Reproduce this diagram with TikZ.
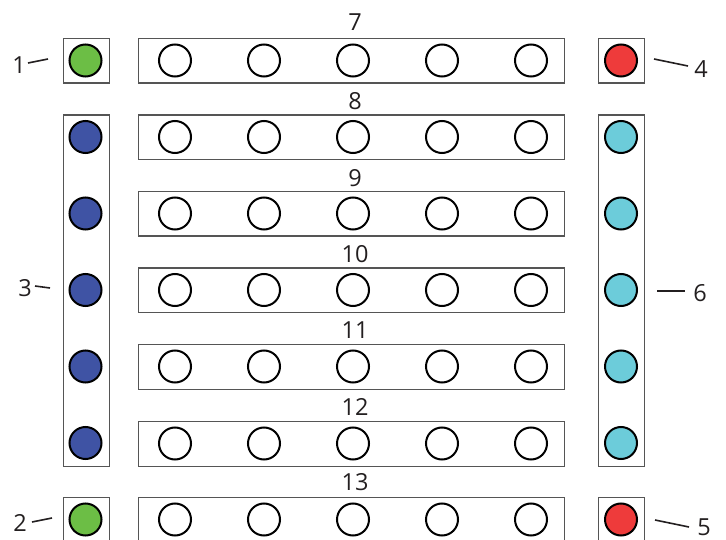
\documentclass[tikz,border=0pt]{standalone}
\usepackage{fontspec}
\setmainfont{Open Sans}
\definecolor{txt}{HTML}{231F20}
\definecolor{cgreen}{HTML}{6CBE45}
\definecolor{cred}{HTML}{EE3B3B}
\definecolor{cblue}{HTML}{3F53A4}
\definecolor{ccyan}{HTML}{6CCCDA}
\definecolor{frame}{HTML}{555555}
\tikzset{
  boxframe/.style={draw=frame, line width=1.2pt, fill=white},
  dot/.style={circle, draw=black, line width=2pt, minimum size=32pt, inner sep=0pt},
  lbl/.style={text=txt, font=\fontsize{23.5}{27}\selectfont, inner sep=0pt, anchor=center},
  leader/.style={draw=txt, line width=1.6pt},
}
\begin{document}
\begin{tikzpicture}[x=1pt,y=-1pt]
\useasboundingbox (0,0) rectangle (726,540);
\clip (0,0) rectangle (726,540);
% row boxes
\foreach \t/\n/\ly in {38/7/22, 114.5/8/101, 191/9/178, 267.5/10/254, 344/11/330, 421/12/407, 497/13/482}{
  \node[boxframe, rectangle, minimum width=426pt, minimum height=44.5pt, inner sep=0pt, anchor=north west] (row\n) at (138,\t) {};
  \node[lbl] (num\n) at (355,\ly) {\n};
  \foreach \x [count=\i] in {175,264,353,442,531}{
    \node[dot, fill=white] (c\n-\i) at (\x,\t+22.5) {};
  }
}
% single boxes
\node[boxframe, rectangle, minimum width=46pt, minimum height=44.5pt, inner sep=0pt, anchor=north west] (tlbox) at (62.5,38) {};
\node[boxframe, rectangle, minimum width=46pt, minimum height=44.5pt, inner sep=0pt, anchor=north west] (trbox) at (598,38) {};
\node[boxframe, rectangle, minimum width=46pt, minimum height=44.5pt, inner sep=0pt, anchor=north west] (blbox) at (62.5,497) {};
\node[boxframe, rectangle, minimum width=46pt, minimum height=44.5pt, inner sep=0pt, anchor=north west] (brbox) at (598,497) {};
\node[dot, fill=cgreen] (g1) at (85.5,60.5) {};
\node[dot, fill=cred] (r1) at (621,60.5) {};
\node[dot, fill=cgreen] (g2) at (85.5,519.5) {};
\node[dot, fill=cred] (r2) at (621,519.5) {};
% columns
\node[boxframe, rectangle, minimum width=46pt, minimum height=351pt, inner sep=0pt, anchor=north west] (lcol) at (62.5,114.5) {};
\node[boxframe, rectangle, minimum width=46pt, minimum height=351pt, inner sep=0pt, anchor=north west] (rcol) at (598,114.5) {};
\foreach \y [count=\i] in {137,213.5,290,366.5,443}{
  \node[dot, fill=cblue] (b\i) at (85.5,\y) {};
  \node[dot, fill=ccyan] (cy\i) at (621,\y) {};
}
% labels and leaders
\node[lbl] (l1) at (19,65) {1};
\coordinate (l1a) at (28,63); \coordinate (l1b) at (48,59);
\draw[leader] (l1a) -- (l1b);
\node[lbl] (l2) at (20,523) {2};
\coordinate (l2a) at (32,522); \coordinate (l2b) at (52,518);
\draw[leader] (l2a) -- (l2b);
\node[lbl] (l3) at (25,288) {3};
\coordinate (l3a) at (35,286); \coordinate (l3b) at (50,288);
\draw[leader] (l3a) -- (l3b);
\node[lbl] (l4) at (701,69) {4};
\coordinate (l4a) at (654,59); \coordinate (l4b) at (688,66);
\draw[leader] (l4a) -- (l4b);
\node[lbl] (l5) at (704,527) {5};
\coordinate (l5a) at (655,520); \coordinate (l5b) at (689,527);
\draw[leader] (l5a) -- (l5b);
\node[lbl] (l6) at (700,293) {6};
\coordinate (l6a) at (657,291); \coordinate (l6b) at (685,291);
\draw[leader] (l6a) -- (l6b);
\end{tikzpicture}
\end{document}
